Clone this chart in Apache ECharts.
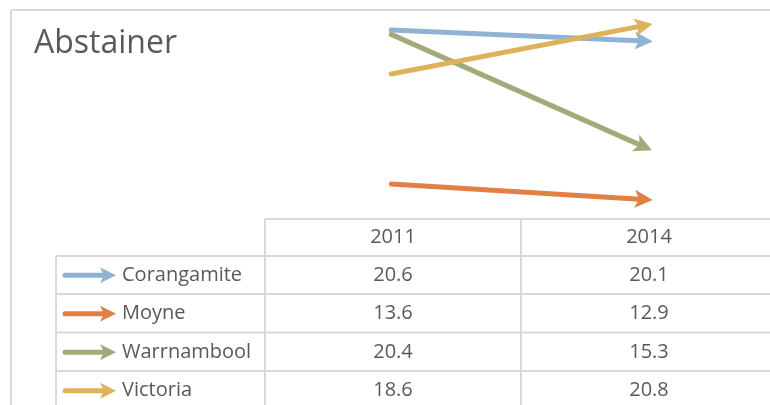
<!DOCTYPE html>
<html><head><meta charset="utf-8">
<script src="https://cdn.jsdelivr.net/npm/echarts@6/dist/echarts.min.js"></script>
<style>html,body{margin:0;padding:0;background:#fff}#c{width:770px;height:405px}</style>
</head><body><div id="c"></div>
<script>
const title = 'Abstainer';
const years = ['2011', '2014'];
const seriesNames = ['Corangamite', 'Moyne', 'Warrnambool', 'Victoria'];
const corangamite = [20.6, 20.1];
const moyne = [13.6, 12.9];
const warrnambool = [20.4, 15.3];
const victoria = [18.6, 20.8];
const colors = ['#8FB3D4', '#E08046', '#A3AA7A', '#DDB25A'];

const values = [corangamite, moyne, warrnambool, victoria];
const FONT = '"Open Sans", "Noto Sans", sans-serif';
const TXT = '#595959';
const GRIDC = '#D9D9D9';

const chart = echarts.init(document.getElementById('c'), null, {renderer: 'canvas'});

const series = seriesNames.map((name, i) => ({
  type: 'lines',
  name: name,
  coordinateSystem: 'cartesian2d',
  polyline: false,
  symbol: ['none', 'path://M0,0 L9,17 L0,13 L-9,17 Z'],
  symbolSize: 18,
  symbolKeepAspect: true,
  silent: true,
  z: 10 + i,
  lineStyle: {color: colors[i], width: 5, opacity: 1, cap: 'round', curveness: 0},
  itemStyle: {color: colors[i]},
  data: [{coords: [[0, values[i][0]], [1, values[i][1]]]}]
}));

// Table geometry
const rowLines = [256, 294, 332.5, 371];
const rowTop = 219, tableLeft = 56, colA = 265, colB = 521, right = 770, bottom = 405;
const rowH = 38.5;
const gfx = [];
gfx.push({type: 'line', shape: {x1: 11, y1: 10, x2: 11, y2: bottom}, style: {stroke: GRIDC, lineWidth: 2}});
gfx.push({type: 'line', shape: {x1: 11, y1: 10, x2: right, y2: 10}, style: {stroke: GRIDC, lineWidth: 2}});
gfx.push({type: 'line', shape: {x1: colA, y1: rowTop, x2: right, y2: rowTop}, style: {stroke: GRIDC, lineWidth: 2}});
rowLines.forEach(y => gfx.push({type: 'line', shape: {x1: tableLeft, y1: y, x2: right, y2: y}, style: {stroke: GRIDC, lineWidth: 2}}));
gfx.push({type: 'line', shape: {x1: tableLeft, y1: rowLines[0], x2: tableLeft, y2: bottom}, style: {stroke: GRIDC, lineWidth: 2}});
gfx.push({type: 'line', shape: {x1: colA, y1: rowTop, x2: colA, y2: bottom}, style: {stroke: GRIDC, lineWidth: 2}});
gfx.push({type: 'line', shape: {x1: colB, y1: rowTop, x2: colB, y2: bottom}, style: {stroke: GRIDC, lineWidth: 2}});

const colCenters = [393, 649];
years.forEach((y, j) => gfx.push({type: 'text', x: colCenters[j], y: (rowTop + rowLines[0]) / 2,
  style: {text: y, font: '20px ' + FONT, fill: TXT, align: 'center', verticalAlign: 'middle'}}));

seriesNames.forEach((name, i) => {
  const cy = rowLines[0] + rowH * i + rowH / 2;
  gfx.push({type: 'line', shape: {x1: 65, y1: cy, x2: 104, y2: cy}, style: {stroke: colors[i], lineWidth: 5, lineCap: 'round'}});
  gfx.push({type: 'polygon', shape: {points: [[100, cy - 8], [116, cy], [100, cy + 8], [104, cy]]}, style: {fill: colors[i]}});
  gfx.push({type: 'text', x: 122, y: cy, style: {text: name, font: '20px ' + FONT, fill: TXT, align: 'left', verticalAlign: 'middle'}});
  values[i].forEach((v, j) => gfx.push({type: 'text', x: colCenters[j], y: cy,
    style: {text: v.toFixed(1), font: '20px ' + FONT, fill: TXT, align: 'center', verticalAlign: 'middle'}}));
});

chart.setOption({
  animation: false,
  backgroundColor: '#fff',
  title: {text: title, left: 29, top: 23, textStyle: {fontFamily: FONT, fontSize: 32, fontWeight: 'normal', color: TXT}},
  grid: {left: 265, top: 21.2, width: 512, height: 198, containLabel: false},
  xAxis: {type: 'category', data: years, boundaryGap: true, show: false},
  yAxis: {type: 'value', min: 12, max: 21, show: false},
  series: series,
  graphic: gfx
});
</script></body></html>
